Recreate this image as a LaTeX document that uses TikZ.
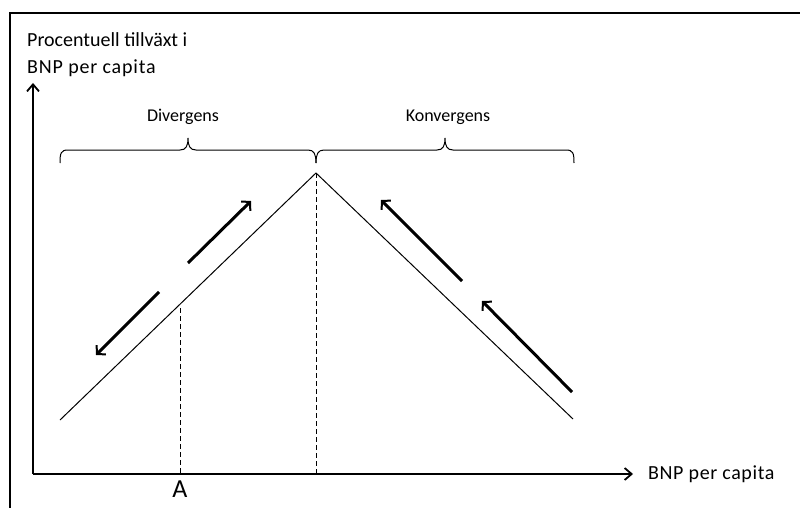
\documentclass[tikz,border=0pt]{standalone}
\usepackage{fontspec}
\setmainfont{Carlito}
\usetikzlibrary{arrows.meta}
\begin{document}
\begin{tikzpicture}[x=1pt,y=-1pt,
  axis/.style={line width=2pt,-{Straight Barb[length=7pt,width=12pt,line width=1.8pt]}},
  curve/.style={line width=1pt},
  move/.style={line width=3pt,-{Straight Barb[length=6pt,width=13pt,line width=2pt]}},
  guide/.style={line width=1pt,dash pattern=on 5pt off 3pt},
  brace/.style={line width=1pt},
  lbl/.style={inner sep=0pt,font=\fontsize{20}{24}\selectfont},
  small/.style={inner sep=0pt,font=\fontsize{18}{22}\selectfont}]
\useasboundingbox (0,0) rectangle (800,508);
\begin{scope}
\clip (0,0) rectangle (800,508);
\draw[line width=2.8pt] (10,520) -- (10,13) -- (810,13);
\end{scope}
% axes
\coordinate (O) at (33,474);
\coordinate (Ytop) at (33,83);
\coordinate (Xend) at (633,474);
\draw[axis] (O) -- (Ytop);
\draw[axis] (O) -- (Xend);
\node[lbl,anchor=west] (xl) at (648,474) {\addfontfeatures{LetterSpace=3}BNP per capita};
\node[lbl,anchor=west] (yl1) at (27,40) {Procentuell tillväxt i};
\node[lbl,anchor=west] (yl2) at (27,68) {\addfontfeatures{LetterSpace=4}BNP per capita};
% curve
\coordinate (L) at (60,420);
\coordinate (P) at (316,173);
\coordinate (R) at (573,419);
\draw[curve] (L) -- (P) -- (R);
% guides
\coordinate (Pb) at (316,474);
\coordinate (Atop) at (180,308);
\coordinate (Ab) at (180,474);
\draw[guide] (P) -- (Pb);
\draw[guide] (Atop) -- (Ab);
\node[inner sep=0pt,font=\fontsize{26}{30}\selectfont] (A) at (180,489) {A};
% braces
\draw[brace] (60,163) .. controls (60,153) and (61,150) .. (68,150) -- (180,150)
  .. controls (186,150) and (188,146) .. (188,138)
  .. controls (188,146) and (190,150) .. (196,150) -- (308,150)
  .. controls (314,150) and (316,154) .. (316,163);
\draw[brace] (316,163) .. controls (316,154) and (318,150) .. (324,150) -- (437,150)
  .. controls (443,150) and (445,146) .. (445,138)
  .. controls (445,146) and (447,150) .. (453,150) -- (566,150)
  .. controls (573,150) and (574,153) .. (574,163);
\node[small] (div) at (183,117) {Divergens};
\node[small] (kon) at (448,117) {Konvergens};
% movement arrows
\coordinate (a1s) at (188,263); \coordinate (a1e) at (251,201);
\coordinate (a2s) at (159,292); \coordinate (a2e) at (96,355);
\coordinate (a3s) at (462,281); \coordinate (a3e) at (381,200);
\coordinate (a4s) at (572,392); \coordinate (a4e) at (482,301);
\draw[move] (a1s) -- (a1e);
\draw[move] (a2s) -- (a2e);
\draw[move] (a3s) -- (a3e);
\draw[move] (a4s) -- (a4e);
\end{tikzpicture}
\end{document}
